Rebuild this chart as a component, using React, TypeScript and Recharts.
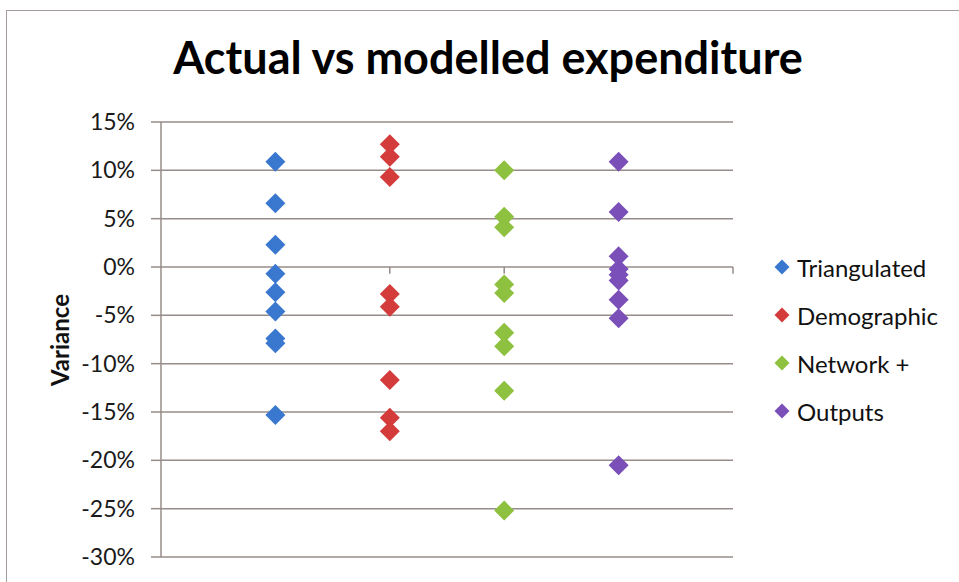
import React from 'react';
import {
  ScatterChart,
  Scatter,
  XAxis,
  YAxis,
  CartesianGrid,
  ReferenceLine,
  Legend,
} from 'recharts';

const seriesNames = ['Triangulated', 'Demographic', 'Network +', 'Outputs'];
const seriesColors = ['#3a78cf', '#d43c3c', '#8dc13f', '#7a4fb8'];

// variance in %, one category per series
const triangulated = [10.9, 6.6, 2.3, -0.7, -2.6, -4.6, -7.4, -7.9, -15.3];
const demographic = [12.7, 11.4, 9.3, -2.8, -4.1, -11.7, -15.6, -17.0];
const networkPlus = [10.0, 5.2, 4.1, -1.8, -2.7, -6.8, -8.2, -12.8, -25.2];
const outputs = [10.9, 5.7, 1.1, -0.2, -0.8, -1.4, -3.4, -5.3, -20.5];

const yTicks = [15, 10, 5, 0, -5, -10, -15, -20, -25, -30];
const xTicks = [1, 2, 3, 4, 5];

const allSeries = [triangulated, demographic, networkPlus, outputs];

const lineColor = '#968c89';
const font = 'Lato, "Open Sans", sans-serif';

const Diamond = (props: any) => {
  const { cx, cy, fill } = props;
  const r = 10;
  return <path d={`M${cx},${cy - r}L${cx + r},${cy}L${cx},${cy + r}L${cx - r},${cy}Z`} fill={fill} />;
};

const LegendBox = () => (
  <div style={{ fontFamily: font, fontSize: 24, color: '#111' }}>
    {seriesNames.map((name, i) => (
      <div key={name} style={{ display: 'flex', alignItems: 'center', height: 48 }}>
        <svg width={16} height={16}>
          <path d="M8,0.5L15.5,8L8,15.5L0.5,8Z" fill={seriesColors[i]} />
        </svg>
        <span style={{ marginLeft: 7 }}>{name}</span>
      </div>
    ))}
  </div>
);

export default function App() {
  return (
    <div style={{ position: 'absolute', left: 0, top: 0, width: 959, height: 582, overflow: 'hidden', background: '#fff' }}>
      <div
        style={{
          position: 'absolute',
          left: 6,
          top: 10,
          width: 980,
          height: 600,
          border: '1.5px solid #a59d9b',
        }}
      />
      <div
        style={{
          position: 'absolute',
          left: 0,
          top: 30,
          width: 976,
          textAlign: 'center',
          fontFamily: font,
          fontWeight: 700,
          fontSize: 45,
          lineHeight: '54px',
          color: '#000',
        }}
      >
        Actual vs modelled expenditure
      </div>
      <ScatterChart
        width={959}
        height={582}
        margin={{ top: 122, right: 226, bottom: 25, left: 0 }}
        style={{ position: 'absolute', left: 0, top: 0 }}
      >
        <CartesianGrid vertical={false} stroke={lineColor} strokeWidth={1.5} />
        <XAxis type="number" dataKey="x" domain={[0, 5]} ticks={xTicks} hide />
        <YAxis
          type="number"
          dataKey="y"
          domain={[-30, 15]}
          ticks={yTicks}
          interval={0}
          width={161}
          tickSize={10}
          tickMargin={16}
          axisLine={{ stroke: lineColor, strokeWidth: 1.5 }}
          tickLine={{ stroke: lineColor, strokeWidth: 1.5 }}
          tick={{ fill: '#1a1a1a', fontSize: 23, fontFamily: font }}
          tickFormatter={(v: number) => `${v}%`}
          label={{
            content: () => (
              <text
                x={59}
                y={340}
                transform="rotate(-90 59 340)"
                textAnchor="middle"
                dominantBaseline="central"
                fontFamily={font}
                fontWeight={700}
                fontSize={24}
                fill="#111"
              >
                Variance
              </text>
            ),
          }}
        />
        {xTicks.map((t) => (
          <ReferenceLine
            key={t}
            segment={[{ x: t, y: 0 }, { x: t, y: -0.7 }]}
            stroke={lineColor}
            strokeWidth={1.5}
          />
        ))}
        {allSeries.map((vals, i) => (
          <Scatter
            key={seriesNames[i]}
            name={seriesNames[i]}
            data={vals.map((v) => ({ x: i + 1, y: v }))}
            fill={seriesColors[i]}
            shape={Diamond}
            isAnimationActive={false}
          />
        ))}
        <Legend
          layout="vertical"
          align="center"
          verticalAlign="middle"
          content={() => <LegendBox />}
          wrapperStyle={{ left: 774, top: 243, width: 185 }}
        />
      </ScatterChart>
    </div>
  );
}
